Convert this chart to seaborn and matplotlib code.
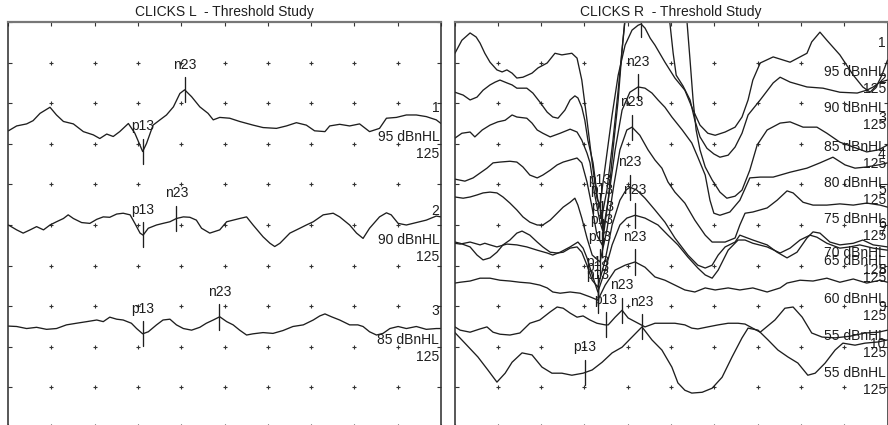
import numpy as np
import pandas as pd
import matplotlib
matplotlib.use("Agg")
import matplotlib.pyplot as plt
import seaborn as sns

sns.set_theme(style="white")
plt.rcParams["font.family"] = ["Liberation Sans", "DejaVu Sans"]

# ---------------- data: latency (ms) and trace position (grid divisions) ----------------
# CLICKS L
L95_ms = [0.1, 2.0, 4.3, 5.8, 7.4, 9.7, 11.2, 12.8, 15.1, 17.4, 19.7, 21.2, 22.8, 24.3, 25.8, 27.8, 29.3, 31.1,
          32.0, 33.5, 35.1, 36.6, 38.2, 39.7, 40.8, 42.4, 44.3, 46.2, 47.4, 48.9, 51.2, 53.5, 56.6, 58.9, 62.0,
          64.3, 66.6, 68.9, 70.8, 73.2, 74.3, 76.6, 78.9, 81.2, 83.5, 85.8, 87.4, 89.7, 92.0, 94.3, 96.6, 98.9, 100]
L95_amp = [7.32, 7.44, 7.49, 7.57, 7.75, 7.90, 7.71, 7.55, 7.49, 7.30, 7.22, 7.13, 7.24, 7.18, 7.30, 7.50, 7.26,
           6.81, 7.01, 7.46, 7.59, 7.71, 7.91, 8.24, 8.33, 8.16, 7.91, 7.75, 7.59, 7.65, 7.63, 7.55, 7.46, 7.40,
           7.38, 7.44, 7.52, 7.46, 7.32, 7.30, 7.44, 7.48, 7.44, 7.49, 7.30, 7.38, 7.63, 7.65, 7.71, 7.71, 7.67,
           7.59, 7.50]
L90_ms = [0.1, 2.0, 3.5, 5.1, 6.6, 8.2, 9.7, 11.2, 12.8, 13.9, 15.1, 17.0, 18.9, 20.5, 22.0, 23.5, 25.1, 26.6,
          28.2, 29.3, 30.5, 31.2, 32.4, 34.3, 35.8, 37.4, 38.9, 40.5, 42.0, 43.5, 44.7, 46.6, 48.9, 50.5, 52.0,
          53.5, 55.1, 56.6, 58.9, 60.5, 61.6, 62.8, 65.1, 67.4, 68.9, 70.5, 72.8, 75.1, 76.6, 78.9, 80.5, 82.0,
          83.5, 85.8, 87.4, 88.5, 90.1, 92.0, 94.3, 96.6, 98.9, 100]
L90_amp = [5.00, 4.88, 4.80, 4.88, 4.96, 4.88, 5.00, 5.08, 5.16, 5.25, 5.16, 5.06, 5.04, 5.14, 5.20, 5.19, 5.27,
           5.29, 5.25, 5.04, 4.80, 4.75, 4.92, 5.00, 5.04, 5.08, 5.16, 5.20, 5.19, 5.12, 4.92, 4.80, 4.88, 5.08,
           5.12, 5.16, 5.20, 5.00, 4.71, 4.55, 4.47, 4.55, 4.80, 4.92, 5.00, 5.08, 5.25, 5.29, 5.20, 5.00, 4.80,
           4.67, 4.92, 5.20, 5.30, 5.25, 5.04, 5.00, 5.06, 5.12, 5.22, 5.20]
L85_ms = [0.1, 2.0, 4.3, 6.6, 8.9, 11.2, 13.5, 15.8, 18.2, 20.5, 22.0, 23.5, 25.1, 26.6, 28.5, 29.7, 31.1, 32.4,
          34.3, 35.8, 37.4, 38.9, 40.5, 42.4, 44.3, 45.8, 47.4, 48.9, 50.5, 52.0, 53.5, 55.1, 56.6, 58.9, 61.2,
          63.5, 65.8, 68.2, 70.5, 72.0, 73.2, 74.7, 76.6, 78.9, 80.8, 82.0, 83.5, 85.1, 86.6, 88.2, 90.1, 92.0,
          94.3, 96.6, 98.9, 100]
L85_amp = [2.51, 2.50, 2.45, 2.48, 2.43, 2.45, 2.54, 2.58, 2.62, 2.66, 2.62, 2.73, 2.68, 2.66, 2.58, 2.45, 2.32,
           2.37, 2.54, 2.66, 2.68, 2.54, 2.45, 2.41, 2.48, 2.58, 2.66, 2.74, 2.62, 2.54, 2.41, 2.29, 2.32, 2.35,
           2.33, 2.40, 2.50, 2.54, 2.66, 2.76, 2.81, 2.74, 2.66, 2.54, 2.54, 2.50, 2.37, 2.29, 2.33, 2.45, 2.50,
           2.45, 2.50, 2.43, 2.45, 2.45]

# CLICKS R
R95_ms = [0.1, 1.7, 3.6, 5.0, 5.9, 7.0, 8.2, 9.8, 11.0, 12.1, 13.3, 14.4, 15.8, 17.9, 19.3, 21.4, 23.2, 24.8,
          27.1, 28.3, 29.4, 30.6, 31.8, 32.9, 33.6, 35.0, 36.4, 37.8, 39.4, 41.0, 42.4, 43.1, 44.0, 45.2, 46.3,
          48.6, 50.9, 53.2, 55.1, 56.7, 58.5, 60.2, 62.5, 64.8, 66.4, 67.8, 68.9, 70.6, 73.6, 77.5, 79.8, 81.4,
          82.5, 84.4, 86.0, 89.0, 92.1, 94.3, 96.0, 97.6, 98.7, 100]
R95_amp = [9.23, 9.55, 9.73, 9.63, 9.48, 9.23, 9.01, 8.82, 8.77, 8.82, 8.74, 8.62, 8.64, 8.74, 8.87, 8.99, 9.23,
           9.19, 9.23, 9.11, 8.57, 7.58, 6.53, 5.66, 5.49, 6.60, 7.71, 8.69, 9.43, 9.80, 9.92, 9.95, 9.85, 9.60,
           9.43, 9.01, 8.62, 8.32, 7.83, 7.46, 7.26, 7.21, 7.29, 7.41, 7.66, 8.08, 8.57, 8.99, 9.14, 9.01, 9.14,
           9.23, 9.51, 9.75, 9.55, 9.19, 8.69, 8.40, 8.27, 8.45, 8.69, 9.06]
R90_ms = [0.1, 2.0, 3.6, 5.2, 6.6, 8.2, 9.4, 10.5, 12.1, 13.3, 14.4, 16.7, 18.1, 19.7, 21.4, 22.7, 23.9, 25.5,
          26.7, 27.8, 28.5, 29.4, 30.1, 30.8, 32.0, 33.1, 34.1, 35.2, 36.6, 37.8, 38.9, 39.8, 41.0, 44.0, 47.5,
          49.1, 49.8, 50.5, 51.2, 52.8, 54.4, 55.5, 56.7, 58.3, 59.9, 61.3, 63.2, 64.8, 66.4, 67.8, 70.6, 73.6,
          75.2, 77.5, 81.4, 85.1, 89.0, 93.0, 95.2, 96.7, 98.3, 100]
R90_amp = [8.27, 8.20, 8.08, 8.15, 8.32, 8.45, 8.52, 8.57, 8.50, 8.45, 8.37, 8.37, 8.25, 8.03, 7.78, 7.66, 7.63,
           7.83, 8.08, 8.18, 8.13, 7.90, 7.58, 7.09, 6.53, 5.61, 5.24, 5.86, 7.09, 8.32, 9.55, 10.54, 11.53, 12.76,
           11.53, 10.54, 9.92, 9.23, 8.69, 8.42, 8.08, 7.58, 7.17, 6.89, 6.75, 6.67, 6.72, 6.92, 7.26, 7.71, 8.08,
           8.50, 8.64, 8.52, 8.40, 8.37, 8.27, 8.25, 8.32, 8.40, 8.52, 8.57]
R85_ms = [0.1, 1.7, 3.6, 4.7, 6.4, 8.2, 10.0, 11.7, 13.3, 14.4, 16.7, 17.9, 19.1, 20.4, 22.1, 24.4, 26.7, 28.3,
          29.4, 30.6, 31.3, 32.4, 33.6, 34.3, 35.5, 36.6, 37.8, 38.7, 39.6, 41.0, 44.0, 47.5, 50.9, 52.8, 53.7,
          54.4, 55.1, 55.8, 56.7, 57.9, 59.5, 61.3, 62.9, 64.8, 66.4, 68.2, 69.9, 72.2, 75.2, 77.5, 80.5, 83.7,
          86.0, 89.0, 92.1, 95.2, 97.9, 100]
R85_amp = [7.14, 7.26, 7.29, 7.17, 7.34, 7.46, 7.54, 7.58, 7.71, 7.66, 7.63, 7.51, 7.34, 7.26, 7.17, 7.26, 7.36,
           7.29, 7.09, 6.77, 6.53, 5.74, 5.07, 4.83, 5.61, 6.85, 8.08, 9.31, 10.29, 11.28, 12.26, 12.51, 11.77,
           10.54, 10.00, 9.06, 8.08, 7.34, 6.85, 6.43, 6.11, 5.81, 5.66, 5.71, 5.86, 6.35, 6.97, 7.34, 7.51, 7.54,
           7.41, 7.41, 7.26, 7.04, 6.92, 6.80, 6.85, 6.97]
R80_ms = [0.1, 2.4, 4.3, 5.9, 7.5, 8.9, 10.5, 12.8, 14.4, 15.8, 17.4, 19.1, 20.4, 22.1, 23.7, 25.1, 26.7, 28.3,
          29.4, 30.6, 31.8, 32.9, 34.1, 35.5, 37.1, 38.7, 40.5, 42.4, 44.0, 45.6, 47.0, 48.6, 50.2, 52.6, 54.8,
          56.2, 57.9, 59.0, 59.9, 61.3, 63.6, 65.9, 68.2, 70.6, 73.6, 77.5, 81.4, 84.4, 87.4, 90.2, 92.5, 95.2,
          97.9, 100]
R80_amp = [6.13, 6.08, 6.16, 6.28, 6.40, 6.53, 6.55, 6.57, 6.55, 6.43, 6.23, 6.16, 6.23, 6.35, 6.48, 6.55, 6.60,
           6.65, 6.53, 6.06, 5.42, 4.75, 4.51, 5.61, 6.85, 7.83, 8.27, 8.40, 8.37, 8.25, 8.08, 7.90, 7.66, 7.34,
           7.02, 6.67, 6.23, 5.61, 5.29, 5.24, 5.32, 5.61, 6.16, 6.18, 6.18, 6.30, 6.40, 6.53, 6.67, 6.48, 6.40,
           6.43, 6.48, 6.53]
R75_ms = [0.1, 2.0, 3.6, 5.2, 6.6, 8.2, 9.8, 11.2, 12.8, 14.4, 15.8, 17.4, 19.1, 20.4, 22.1, 23.7, 25.1, 26.7,
          27.8, 28.5, 29.4, 30.6, 31.8, 33.6, 35.2, 36.8, 38.2, 39.8, 41.0, 42.8, 44.7, 46.3, 47.9, 49.3, 50.9,
          53.2, 55.5, 57.9, 59.5, 62.5, 64.8, 65.9, 67.1, 68.9, 72.2, 74.5, 76.8, 78.2, 80.5, 82.8, 86.0, 89.0,
          92.1, 95.2, 98.3, 100]
R75_amp = [5.69, 5.66, 5.69, 5.74, 5.79, 5.81, 5.79, 5.69, 5.54, 5.37, 5.20, 5.07, 5.00, 5.00, 5.12, 5.29, 5.44,
           5.56, 5.66, 5.49, 5.17, 4.68, 4.26, 4.09, 4.88, 5.98, 6.85, 7.34, 7.41, 7.21, 6.85, 6.60, 6.40, 6.06,
           5.81, 5.54, 5.12, 4.75, 4.58, 4.58, 4.68, 5.00, 5.29, 5.32, 5.42, 5.61, 5.84, 5.79, 5.56, 5.49, 5.49,
           5.52, 5.49, 5.54, 5.49, 5.44]
R70_ms = [0.1, 1.3, 3.6, 5.2, 6.6, 8.2, 9.8, 11.2, 12.8, 14.4, 15.6, 17.4, 19.1, 20.4, 22.1, 23.7, 25.1, 26.7,
          28.3, 29.4, 30.6, 31.8, 33.1, 34.8, 36.4, 38.2, 39.6, 40.5, 42.1, 44.0, 46.3, 48.6, 50.9, 53.9, 56.2,
          57.9, 59.5, 60.9, 62.5, 64.8, 65.9, 68.9, 72.2, 74.5, 76.8, 79.1, 81.4, 82.8, 84.4, 86.7, 89.0, 92.1,
          94.3, 96.7, 100]
R70_amp = [4.58, 4.55, 4.46, 4.26, 4.14, 4.19, 4.33, 4.51, 4.63, 4.80, 4.85, 4.75, 4.58, 4.46, 4.33, 4.31, 4.33,
           4.43, 4.46, 4.33, 4.01, 3.64, 3.47, 4.14, 5.00, 5.61, 5.86, 5.93, 5.86, 5.66, 5.37, 5.07, 4.68, 4.26,
           4.01, 3.94, 4.01, 4.26, 4.46, 4.58, 4.75, 4.63, 4.51, 4.33, 4.19, 4.33, 4.68, 4.83, 4.80, 4.58, 4.51,
           4.55, 4.63, 4.51, 4.46]
R65_ms = [0.1, 1.3, 3.6, 5.9, 7.0, 8.2, 9.8, 12.1, 14.4, 16.7, 19.1, 21.4, 22.7, 24.4, 26.7, 28.5, 29.7, 30.6,
          31.8, 33.1, 34.8, 36.4, 38.2, 39.8, 41.7, 44.0, 47.0, 49.3, 51.6, 53.9, 56.2, 57.9, 59.5, 60.9, 63.2,
          65.5, 67.1, 68.9, 72.2, 75.2, 77.5, 79.8, 82.1, 83.7, 86.0, 89.0, 91.3, 93.6, 96.7, 100]
R65_amp = [4.55, 4.53, 4.58, 4.51, 4.55, 4.51, 4.46, 4.53, 4.51, 4.46, 4.38, 4.31, 4.26, 4.33, 4.46, 4.58, 4.43,
           4.19, 3.77, 3.35, 3.89, 4.51, 5.00, 5.17, 5.24, 5.17, 5.00, 4.75, 4.51, 4.21, 3.94, 3.77, 3.69, 3.89,
           4.38, 4.63, 4.63, 4.55, 4.46, 4.31, 4.43, 4.63, 4.75, 4.70, 4.55, 4.43, 4.46, 4.51, 4.43, 4.38]
R60_ms = [0.1, 1.3, 3.6, 5.9, 8.2, 10.5, 12.8, 15.1, 17.4, 19.7, 21.4, 22.7, 24.4, 26.7, 29.0, 31.3, 33.1, 34.8,
          37.1, 39.4, 41.7, 44.0, 46.3, 48.6, 50.9, 53.2, 55.5, 57.9, 60.2, 63.2, 65.9, 68.9, 72.2, 75.2, 76.8,
          79.8, 82.8, 86.0, 89.0, 92.1, 95.2, 98.3, 100]
R60_amp = [3.57, 3.59, 3.62, 3.69, 3.69, 3.64, 3.62, 3.59, 3.57, 3.52, 3.45, 3.35, 3.32, 3.35, 3.32, 3.23, 3.15,
           3.52, 3.89, 4.01, 4.09, 3.96, 3.72, 3.64, 3.52, 3.40, 3.35, 3.45, 3.40, 3.45, 3.40, 3.45, 3.35, 3.45,
           3.57, 3.64, 3.62, 3.69, 3.59, 3.67, 3.57, 3.64, 3.59]
R55a_ms = [0.1, 1.3, 3.6, 5.9, 7.5, 8.9, 10.5, 12.8, 15.1, 17.4, 19.7, 22.1, 23.7, 25.1, 26.7, 28.3, 29.7, 31.3,
           32.9, 34.8, 35.5, 37.1, 38.7, 40.1, 42.4, 44.0, 46.3, 47.9, 50.9, 53.2, 54.8, 56.2, 58.5, 60.9, 63.2,
           65.5, 67.1, 70.6, 74.0, 76.3, 78.2, 80.3, 82.5, 84.9, 87.9, 91.3, 94.8, 97.9, 100]
R55a_amp = [2.49, 2.41, 2.36, 2.44, 2.49, 2.36, 2.31, 2.29, 2.34, 2.58, 2.66, 2.86, 2.98, 2.95, 2.83, 2.73, 2.76,
            2.66, 2.58, 2.54, 2.54, 2.73, 2.90, 2.71, 2.58, 2.49, 2.58, 2.58, 2.58, 2.54, 2.46, 2.44, 2.49, 2.54,
            2.58, 2.58, 2.56, 2.36, 2.66, 2.95, 2.98, 2.73, 2.34, 2.24, 2.22, 2.26, 2.34, 2.36, 2.41]
R55b_ms = [0.0, 2.4, 5.4, 7.7, 9.8, 11.7, 13.3, 15.6, 17.9, 20.2, 22.5, 24.8, 27.1, 29.7, 31.8, 34.1, 36.4, 38.7,
           41.0, 43.3, 45.6, 47.9, 50.2, 51.6, 53.2, 54.8, 57.2, 59.5, 61.8, 64.1, 66.4, 67.8, 70.1, 72.4, 74.7,
           77.0, 79.3, 81.6, 83.3, 85.6, 87.9, 89.7, 92.5, 94.8, 97.9, 100]
R55b_amp = [2.36, 2.09, 1.75, 1.43, 1.13, 1.35, 1.62, 1.85, 1.80, 1.50, 1.35, 1.35, 1.30, 1.35, 1.43, 1.62, 1.85,
            1.99, 2.24, 2.49, 2.17, 1.92, 1.50, 1.11, 0.93, 0.86, 0.88, 0.98, 1.25, 1.75, 2.22, 2.46, 2.41, 2.17,
            1.92, 1.75, 1.60, 1.30, 1.35, 1.60, 1.92, 2.09, 2.04, 2.09, 2.12, 2.17]

# peak latencies (ms)
left_p13 = [31.1, 31.1, 31.1]
left_n23 = [40.8, 38.9, 48.8]
right_p13 = [33.6, 34.1, 34.3, 34.1, 33.6, 33.1, 33.1, 33.1, 35.0, 30.1]
right_n23 = [43.1, 44.0, 49.0, 42.4, 41.0, 40.5, 41.7, 41.7, 38.7, 43.3]

left_levels = ["95 dBnHL", "90 dBnHL", "85 dBnHL"]
right_levels = ["95 dBnHL", "90 dBnHL", "85 dBnHL", "80 dBnHL", "75 dBnHL",
                "70 dBnHL", "65 dBnHL", "60 dBnHL", "55 dBnHL", "55 dBnHL"]
rate_label = "125"
titles = ["CLICKS L  - Threshold Study", "CLICKS R  - Threshold Study"]

# layout: row baselines of the channel labels (grid divisions)
left_rows = [7.46, 4.92, 2.46]
right_rows = [9.06, 8.18, 7.21, 6.33, 5.44, 4.60, 4.41, 3.47, 2.56, 1.65]

left_series = [(L95_ms, L95_amp), (L90_ms, L90_amp), (L85_ms, L85_amp)]
right_series = [(R95_ms, R95_amp), (R90_ms, R90_amp), (R85_ms, R85_amp), (R80_ms, R80_amp),
                (R75_ms, R75_amp), (R70_ms, R70_amp), (R65_ms, R65_amp), (R60_ms, R60_amp),
                (R55a_ms, R55a_amp), (R55b_ms, R55b_amp)]

INK = "#1e1e1e"
W, H = 888, 425
fig = plt.figure(figsize=(W / 100, H / 100), dpi=100)
fig.patch.set_facecolor("white")

ax_h = 406 / H
ax_b = (H - 428) / H
axL = fig.add_axes([8 / W, ax_b, 433 / W, ax_h])
axR = fig.add_axes([454.5 / W, ax_b, 433 / W, ax_h])


def draw_panel(ax, series, p13s, n23s, levels, rows, title):
    frames = []
    for i, (t, a) in enumerate(series):
        frames.append(pd.DataFrame({"ms": t, "amp": a, "trace": i}))
    df = pd.concat(frames, ignore_index=True)
    sns.lineplot(data=df, x="ms", y="amp", units="trace", estimator=None, sort=False,
                 color=INK, linewidth=0.95, ax=ax, legend=False)

    gx, gy = np.meshgrid(np.arange(10, 100, 10), np.arange(1, 10))
    sns.scatterplot(x=gx.ravel(), y=gy.ravel(), marker="+", s=10, color="#333333",
                    linewidth=0.8, ax=ax, legend=False, zorder=1)

    for i, (t, a) in enumerate(series):
        for lat, name in ((p13s[i], "p13"), (n23s[i], "n23")):
            yv = float(np.interp(lat, t, a))
            ax.plot([lat, lat], [yv - 0.31, yv + 0.31], color=INK, lw=0.95)
            ly = yv + 0.62
            if ly < 9.9:
                ax.text(lat, ly, name, ha="center", va="center", fontsize=10, color=INK)
        base = rows[i]
        ax.text(99.6, base + 0.42, str(i + 1), ha="right", va="center", fontsize=10, color=INK)
        ax.text(99.6, base - 0.30, levels[i], ha="right", va="center", fontsize=10, color=INK)
        ax.text(99.6, base - 0.71, rate_label, ha="right", va="center", fontsize=10, color=INK)

    ax.set_xlim(0, 100)
    ax.set_ylim(0, 10)
    ax.set_xticks(np.arange(0, 101, 10))
    ax.set_yticks(np.arange(0, 11, 1))
    ax.tick_params(direction="in", length=3, width=0.8, color="#333333",
                   top=True, right=True, bottom=True, left=True,
                   labelbottom=False, labelleft=False)
    ax.set_xlabel("")
    ax.set_ylabel("")
    for s in ax.spines.values():
        s.set_visible(True)
        s.set_color("#2a2a2a")
        s.set_linewidth(1.1)
    ax.spines["top"].set_color("#777777")
    ax.spines["top"].set_linewidth(1.6)
    ax.text(50, 10.25, title, ha="center", va="center", fontsize=10, color=INK, clip_on=False)


draw_panel(axL, left_series, left_p13, left_n23, left_levels, left_rows, titles[0])
draw_panel(axR, right_series, right_p13, right_n23, right_levels, right_rows, titles[1])

fig.savefig("out.png", dpi=100, facecolor="white")
